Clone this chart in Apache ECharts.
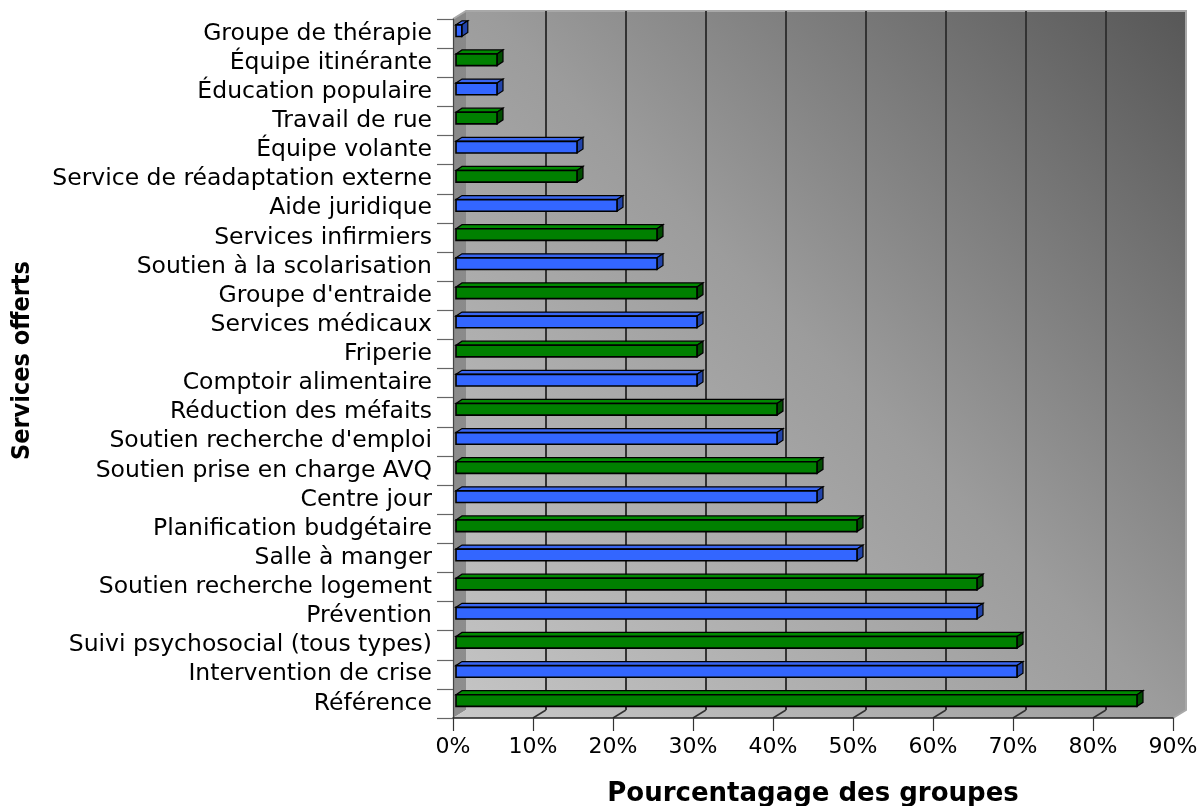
<!DOCTYPE html>
<html>
<head>
<meta charset="utf-8">
<script src="https://cdn.jsdelivr.net/npm/echarts@6/dist/echarts.min.js"></script>
<style>html,body{margin:0;padding:0;background:#fff}#c{width:1200px;height:806px}</style>
</head>
<body>
<div id="c"></div>
<script>
// ---- data (bottom to top) ----
const categories = ['Référence','Intervention de crise','Suivi psychosocial (tous types)','Prévention','Soutien recherche logement','Salle à manger','Planification budgétaire','Centre jour','Soutien prise en charge AVQ',"Soutien recherche d'emploi",'Réduction des méfaits','Comptoir alimentaire','Friperie','Services médicaux',"Groupe d'entraide",'Soutien à la scolarisation','Services infirmiers','Aide juridique','Service de réadaptation externe','Équipe volante','Travail de rue','Éducation populaire','Équipe itinérante','Groupe de thérapie'];
const values = [85,70,70,65,65,50,50,45,45,40,40,30,30,30,30,25,25,20,15,15,5,5,5,0.6];
const xTicks = {min:0, max:90, step:10};
const xAxisTitle = 'Pourcentagage des groupes';
const yAxisTitle = 'Services offerts';

// ---- layout / style ----
const GRID = {left:453, right:27, top:19, bottom:88};
const DEPTH = {dx:13, dy:8};
const GREEN = {front:'#008000', top:'#008a00', side:'#004d00'};
const BLUE = {front:'#3366ff', top:'#3a66f0', side:'#2244aa'};
const FONT = 'DejaVu Sans';

const chart = echarts.init(document.getElementById('c'), null, {renderer:'canvas'});

function renderItem(params, api){
  const v = api.value(0), idx = api.value(1);
  const s = api.coord([0, idx]), e = api.coord([v, idx]);
  const band = api.size([0,1])[1];
  const cy = s[1] - band*0.1;
  const hh = band*0.2;
  const x0 = s[0]+3, x1 = e[0]+4, y0 = cy-hh, y1 = cy+hh;
  const dx = 6, dy = 4;
  const c = idx % 2 === 0 ? GREEN : BLUE;
  return {type:'group', children:[
    {type:'polygon', shape:{points:[[x0,y0],[x0+dx,y0-dy],[x1+dx,y0-dy],[x1,y0]]}, style:{fill:c.top, stroke:'#000', lineWidth:1.2}},
    {type:'polygon', shape:{points:[[x1,y0],[x1+dx,y0-dy],[x1+dx,y1-dy],[x1,y1]]}, style:{fill:c.side, stroke:'#000', lineWidth:1.2}},
    {type:'rect', shape:{x:x0,y:y0,width:x1-x0,height:y1-y0}, style:{fill:c.front, stroke:'#000', lineWidth:1.6}}
  ]};
}

chart.setOption({
  animation:false,
  backgroundColor:'#ffffff',
  grid:[
    {left:GRID.left, right:GRID.right, top:GRID.top, bottom:GRID.bottom, containLabel:false, outerBoundsMode:'none'},
    {left:GRID.left+DEPTH.dx, right:GRID.right-DEPTH.dx, top:GRID.top-DEPTH.dy, bottom:GRID.bottom+DEPTH.dy,
     containLabel:false, outerBoundsMode:'none',
     show:true, borderWidth:0, z:-2,
     backgroundColor:new echarts.graphic.LinearGradient(0,1,1,0,[
       {offset:0,color:'#c4c4c4'},{offset:0.5,color:'#9c9c9c'},{offset:1,color:'#575757'}])}
  ],
  xAxis:[
    {gridIndex:0, type:'value', min:xTicks.min, max:xTicks.max, interval:xTicks.step,
     axisLine:{show:true, lineStyle:{color:'#222', width:1.5}},
     axisTick:{show:true, length:13, lineStyle:{color:'#333', width:1.2}},
     axisLabel:{formatter:'{value}%', fontFamily:FONT, fontSize:22, color:'#000', margin:18},
     splitLine:{show:false},
     name:xAxisTitle, nameLocation:'middle', nameGap:63, nameMoveOverlap:false,
     nameTextStyle:{fontFamily:FONT, fontWeight:'bold', fontSize:26, color:'#000'}},
    {gridIndex:1, type:'value', min:xTicks.min, max:xTicks.max, interval:xTicks.step,
     axisLine:{show:false}, axisTick:{show:false}, axisLabel:{show:false},
     splitLine:{show:true, showMinLine:false, showMaxLine:false, lineStyle:{color:'#333', width:2}}}
  ],
  yAxis:[
    {gridIndex:0, type:'category', data:categories,
     axisLine:{show:true, lineStyle:{color:'#444', width:1.2}},
     axisTick:{show:true, length:16, interval:0, lineStyle:{color:'#666', width:1.2}},
     axisLabel:{interval:0, fontFamily:FONT, fontSize:23.5, color:'#000', margin:21},
     splitLine:{show:false}},
    {gridIndex:1, type:'category', data:categories, show:false}
  ],
  series:[{type:'custom', xAxisIndex:0, yAxisIndex:0, z:5,
    data:values.map((v,i)=>[v,i]), renderItem:renderItem}]
});

// ---- 3D walls derived from grid layout and axis scale ----
const W = chart.getWidth(), H = chart.getHeight();
const L = GRID.left, R = W - GRID.right, T = GRID.top, B = H - GRID.bottom;
const dX = DEPTH.dx, dY = DEPTH.dy;
const g = [];
g.push({type:'polygon', z:-1, silent:true,
  shape:{points:[[L,T],[L+dX,T-dY],[L+dX,B-dY],[L,B]]},
  style:{fill:new echarts.graphic.LinearGradient(0,0,0,1,[{offset:0,color:'#888'},{offset:1,color:'#8e8e8e'}])}});
g.push({type:'polygon', z:-1, silent:true,
  shape:{points:[[L,B],[L+dX,B-dY],[R+dX,B-dY],[R,B]]},
  style:{fill:new echarts.graphic.LinearGradient(0,0,1,0,[{offset:0,color:'#c8c8c8'},{offset:1,color:'#9c9c9c'}])}});
for (let v = xTicks.min + xTicks.step; v < xTicks.max; v += xTicks.step){
  const px = chart.convertToPixel({xAxisIndex:0}, v);
  g.push({type:'line', z:-1, silent:true, shape:{x1:px, y1:B, x2:px+dX, y2:B-dY}, style:{stroke:'#333', lineWidth:1.5}});
}
g.push({type:'polyline', z:-1, silent:true,
  shape:{points:[[L,T],[L+dX,T-dY],[R+dX,T-dY],[R+dX,B-dY],[R,B]]},
  style:{stroke:'#a8a8a8', lineWidth:2, fill:null}});
g.push({type:'text', z:10, x:22, y:(T+B)/2 - 8, rotation:Math.PI/2,
  style:{text:yAxisTitle, fontFamily:'"DejaVu Sans Condensed", "DejaVu Sans", sans-serif', fontWeight:'bold', fontSize:25, fill:'#000', align:'center', verticalAlign:'middle'}});
chart.setOption({graphic:g});
</script>
</body>
</html>
